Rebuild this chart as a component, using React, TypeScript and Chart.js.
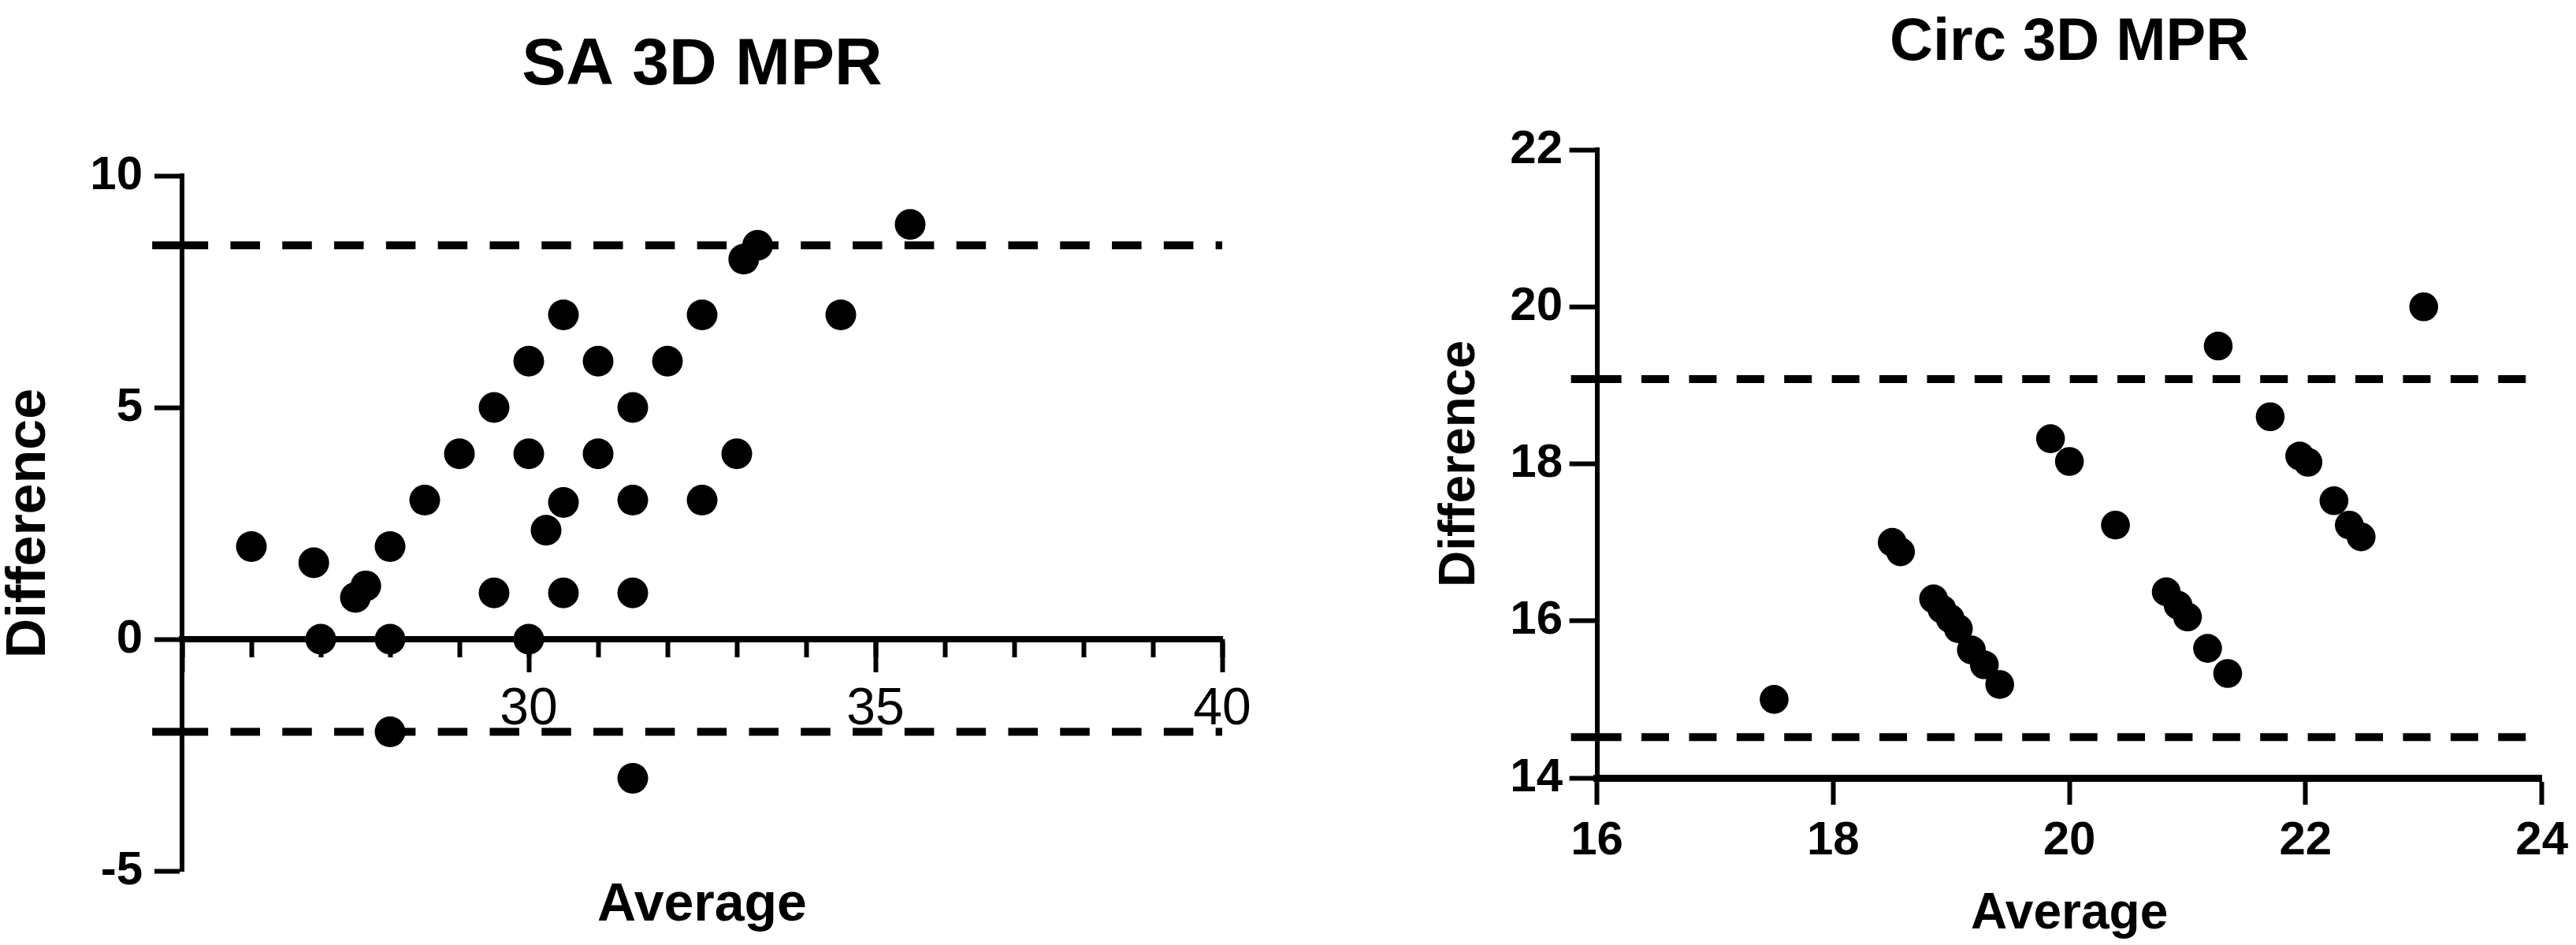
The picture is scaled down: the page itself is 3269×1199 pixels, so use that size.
import React, { useEffect, useRef } from 'react';
import { Chart, registerables } from 'chart.js';

Chart.register(...registerables);

const FONT = "'Liberation Sans', Arial, Helvetica, sans-serif";

// ---------- SA 3D MPR (left panel) ----------
const saAverage = [26, 26.9, 27, 27.5, 27.65, 28, 28, 28, 28.5, 29, 29.5, 29.5, 30, 30, 30, 30.25, 30.5, 30.5, 30.5, 31, 31, 31.5, 31.5, 31.5, 31.5, 32, 32.5, 32.5, 33, 33.1, 33.3, 34.5, 35.5];
const saDifference = [2, 1.65, 0, 0.9, 1.15, 2, 0, -2, 3, 4, 5, 1, 6, 4, 0, 2.35, 2.95, 7, 1, 6, 4, 5, 3, 1, -3, 6, 7, 3, 4, 8.2, 8.5, 7, 8.95];
const saUpperLimit = 8.5;
const saLowerLimit = -2.0;
const saXRange = [25, 40];
const saYRange = [-5, 10];
const saLineXRange = [24.57, 40];
const saXTickLabels = [30, 35, 40];

// ---------- Circ 3D MPR (right panel) ----------
const circAverage = [17.5, 18.5, 18.57, 18.85, 18.92, 18.99, 19.06, 19.17, 19.28, 19.41, 19.84, 20.0, 20.39, 20.82, 20.92, 21.0, 21.17, 21.34, 21.26, 21.7, 21.95, 22.02, 22.24, 22.37, 22.47, 23.0];
const circDifference = [15.0, 17.0, 16.88, 16.28, 16.15, 16.03, 15.9, 15.63, 15.44, 15.19, 18.32, 18.03, 17.22, 16.37, 16.2, 16.05, 15.65, 15.33, 19.5, 18.6, 18.1, 18.02, 17.53, 17.22, 17.07, 20.0];
const circUpperLimit = 19.08;
const circLowerLimit = 14.52;
const circXRange = [16, 24];
const circYRange = [14, 22];
const circLineXRange = [15.78, 24];

const BLACK = '#000000';

// dash pattern: one long leading dash (crossing the y axis), then regular dashes
function dashPattern(lead: number, dash: number, gap: number, repeats: number) {
  const p: number[] = [lead, gap];
  for (let i = 0; i < repeats; i++) p.push(dash, gap);
  return p;
}

function dashedLine(y: number, xr: number[], dash: number[]) {
  return {
    data: [{ x: xr[0], y }, { x: xr[1], y }],
    showLine: true,
    borderColor: BLACK,
    borderWidth: 10,
    borderDash: dash,
    borderDashOffset: 0,
    pointRadius: 0,
    pointHoverRadius: 0,
    clip: false as any,
  };
}

function makeSA(canvas: HTMLCanvasElement) {
  const dash = dashPattern(71, 37.5, 28.3, 30);
  return new Chart(canvas, {
    type: 'scatter',
    data: {
      datasets: [
        {
          data: saAverage.map((x, i) => ({ x, y: saDifference[i] })),
          pointRadius: 19.5,
          pointHoverRadius: 19.5,
          pointBackgroundColor: BLACK,
          pointBorderWidth: 0,
        },
        dashedLine(saUpperLimit, saLineXRange, dash) as any,
        dashedLine(saLowerLimit, saLineXRange, dash) as any,
      ],
    },
    options: {
      responsive: false,
      animation: false,
      devicePixelRatio: 1,
      layout: { padding: { left: 0, right: 89, top: 0, bottom: 94 } },
      plugins: {
        legend: { display: false },
        tooltip: { enabled: false },
        title: {
          display: true,
          text: 'SA 3D MPR',
          fullSize: false,
          color: BLACK,
          font: { size: 84, weight: 'bold', family: FONT, lineHeight: 1 },
          padding: { top: 42, bottom: 97 },
        },
      },
      scales: {
        x: {
          type: 'linear',
          position: { y: 0 } as any,
          min: saXRange[0],
          max: saXRange[1],
          ticks: {
            stepSize: 5,
            autoSkip: false,
            maxRotation: 0,
            padding: 12,
            color: BLACK,
            font: { size: 66, family: FONT },
            callback: (v: any) => (saXTickLabels.includes(Number(v)) ? String(v) : ''),
          },
          grid: { drawOnChartArea: false, drawTicks: true, tickLength: 38, tickWidth: 6, tickColor: BLACK },
          border: { display: true, width: 8, color: BLACK },
          title: {
            display: true,
            text: 'Average',
            color: BLACK,
            font: { size: 68, weight: 'bold', family: FONT, lineHeight: 1 },
            padding: 0,
          },
          afterFit: (s: any) => { s.height = 372; },
        } as any,
        xMinor: {
          type: 'linear',
          axis: 'x',
          position: { y: 0 } as any,
          min: saXRange[0],
          max: saXRange[1],
          ticks: { stepSize: 1, autoSkip: false, maxRotation: 0, callback: () => '' },
          grid: { drawOnChartArea: false, drawTicks: true, tickLength: 23, tickWidth: 6, tickColor: BLACK },
          border: { display: false },
        } as any,
        y: {
          type: 'linear',
          position: 'left',
          min: saYRange[0],
          max: saYRange[1],
          ticks: {
            stepSize: 5,
            padding: 15,
            color: BLACK,
            font: { size: 60, weight: 'bold', family: FONT },
          },
          grid: { drawOnChartArea: false, drawTicks: true, tickLength: 35, tickWidth: 6, tickColor: BLACK },
          border: { display: true, width: 6, color: BLACK },
          title: {
            display: true,
            text: 'Difference',
            color: BLACK,
            font: { size: 70, weight: 'bold', family: FONT, lineHeight: 1 },
            padding: { top: 3, bottom: 0 },
          },
          afterFit: (s: any) => { s.width = 231; },
        } as any,
      },
    },
  });
}

function makeCirc(canvas: HTMLCanvasElement) {
  const dash = dashPattern(64, 35, 25.4, 30);
  return new Chart(canvas, {
    type: 'scatter',
    data: {
      datasets: [
        {
          data: circAverage.map((x, i) => ({ x, y: circDifference[i] })),
          pointRadius: 18.3,
          pointHoverRadius: 18.3,
          pointBackgroundColor: BLACK,
          pointBorderWidth: 0,
        },
        dashedLine(circUpperLimit, circLineXRange, dash) as any,
        dashedLine(circLowerLimit, circLineXRange, dash) as any,
      ],
    },
    options: {
      responsive: false,
      animation: false,
      devicePixelRatio: 1,
      layout: { padding: { left: 0, right: 41.5, top: 0, bottom: 7 } },
      plugins: {
        legend: { display: false },
        tooltip: { enabled: false },
        title: {
          display: true,
          text: 'Circ 3D MPR',
          fullSize: false,
          color: BLACK,
          font: { size: 76, weight: 'bold', family: FONT, lineHeight: 1 },
          padding: { top: 17.5, bottom: 96.5 },
        },
      },
      scales: {
        x: {
          type: 'linear',
          position: 'bottom',
          min: circXRange[0],
          max: circXRange[1],
          ticks: {
            stepSize: 2,
            autoSkip: false,
            maxRotation: 0,
            padding: 10,
            color: BLACK,
            font: { size: 60, weight: 'bold', family: FONT },
          },
          grid: { drawOnChartArea: false, drawTicks: true, tickLength: 34, tickWidth: 6, tickColor: BLACK },
          border: { display: true, width: 9, color: BLACK },
          title: {
            display: true,
            text: 'Average',
            color: BLACK,
            font: { size: 64, weight: 'bold', family: FONT, lineHeight: 1 },
            padding: 0,
          },
          afterFit: (s: any) => { s.height = 205; },
        } as any,
        y: {
          type: 'linear',
          position: 'left',
          min: circYRange[0],
          max: circYRange[1],
          ticks: {
            stepSize: 2,
            padding: 8.6,
            color: BLACK,
            font: { size: 60, weight: 'bold', family: FONT },
          },
          grid: { drawOnChartArea: false, drawTicks: true, tickLength: 35, tickWidth: 6, tickColor: BLACK },
          border: { display: true, width: 6, color: BLACK },
          title: {
            display: true,
            text: 'Difference',
            color: BLACK,
            font: { size: 64, weight: 'bold', family: FONT, lineHeight: 1 },
            padding: { top: 121, bottom: 0 },
          },
          afterFit: (s: any) => { s.width = 326.6; },
        } as any,
      },
    },
  });
}

export default function App() {
  const leftRef = useRef<HTMLCanvasElement>(null);
  const rightRef = useRef<HTMLCanvasElement>(null);

  useEffect(() => {
    const c1 = makeSA(leftRef.current!);
    const c2 = makeCirc(rightRef.current!);
    return () => {
      c1.destroy();
      c2.destroy();
    };
  }, []);

  return (
    <div style={{ position: 'absolute', left: 0, top: 0, width: 3269, height: 1199, background: '#ffffff', overflow: 'hidden' }}>
      <canvas
        ref={leftRef}
        width={1640}
        height={1199}
        style={{ position: 'absolute', left: 0, top: 0, width: 1640, height: 1199 }}
      />
      <canvas
        ref={rightRef}
        width={1569}
        height={1199}
        style={{ position: 'absolute', left: 1700, top: 0, width: 1569, height: 1199 }}
      />
    </div>
  );
}
